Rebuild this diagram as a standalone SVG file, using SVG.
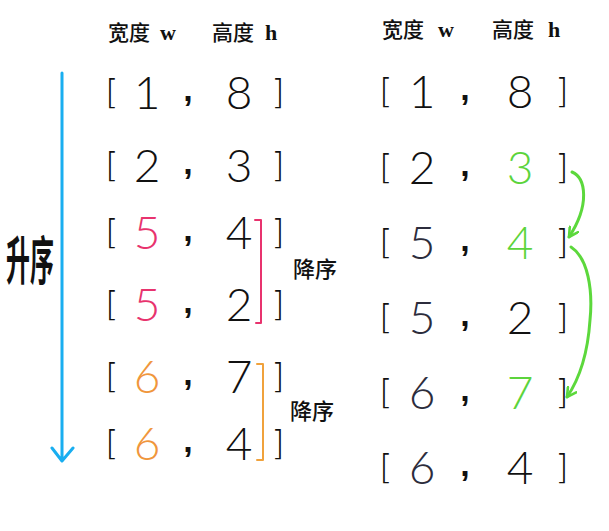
<svg xmlns="http://www.w3.org/2000/svg" width="609" height="531" viewBox="0 0 609 531">
<defs>
<style>
.hd{font-family:"Noto Sans CJK SC","Noto Sans",sans-serif;font-size:21px;font-weight:500;fill:#111}
.hl{font-family:"Liberation Serif",serif;font-size:22px;font-weight:700;fill:#111}
.d{font-family:Lato,"DejaVu Sans",sans-serif;font-size:46px;font-weight:300;fill:#111;text-anchor:middle}
.b{font-family:"DejaVu Sans",sans-serif;font-size:34px;font-weight:200;fill:#111;text-anchor:middle}
.c{font-family:"Liberation Sans",sans-serif;font-size:34px;font-weight:700;fill:#111;text-anchor:middle}
.pk{fill:#e8336e}.or{fill:#f0963c}.gr{fill:#5cd43c}.nv{fill:#2c2c3c}
.lbl{font-family:"Noto Sans CJK SC",sans-serif;font-size:22px;font-weight:500;fill:#111}
</style>
<marker id="gh" viewBox="0 0 12 12" refX="10" refY="6" markerWidth="12" markerHeight="12" markerUnits="userSpaceOnUse" orient="auto">
<path d="M1,1 L10,6 L1,11" fill="none" stroke="#5cd83c" stroke-width="2.6" stroke-linecap="round" stroke-linejoin="round"/>
</marker>
</defs>
<rect width="609" height="531" fill="#fff"/>

<g id="headers">
<text class="hd" x="108" y="40">宽度</text><text class="hl" x="160" y="40">w</text>
<text class="hd" x="212" y="40">高度</text><text class="hl" x="265" y="40">h</text>
<text class="hd" x="382" y="37">宽度</text><text class="hl" x="438" y="37">w</text>
<text class="hd" x="492" y="37">高度</text><text class="hl" x="548" y="37">h</text>
</g>

<g id="left-rows">
<g id="L1"><text class="b" x="112" y="104">[</text><text class="d" x="147" y="109">1</text><text class="c" x="188" y="101">,</text><text class="d" x="239" y="109">8</text><text class="b" x="278" y="104">]</text></g>
<g id="L2"><text class="b" x="112" y="177">[</text><text class="d" x="147" y="182">2</text><text class="c" x="188" y="174">,</text><text class="d" x="239" y="182">3</text><text class="b" x="278" y="177">]</text></g>
<g id="L3"><text class="b" x="112" y="244">[</text><text class="d pk" x="147" y="249">5</text><text class="c" x="188" y="241">,</text><text class="d" x="239" y="249">4</text><text class="b" x="278" y="244">]</text></g>
<g id="L4"><text class="b" x="112" y="316">[</text><text class="d pk" x="147" y="321">5</text><text class="c" x="188" y="313">,</text><text class="d" x="239" y="321">2</text><text class="b" x="278" y="316">]</text></g>
<g id="L5"><text class="b" x="112" y="388">[</text><text class="d or" x="147" y="393">6</text><text class="c" x="188" y="385">,</text><text class="d" x="239" y="393">7</text><text class="b" x="278" y="388">]</text></g>
<g id="L6"><text class="b" x="112" y="455">[</text><text class="d or" x="147" y="460">6</text><text class="c" x="188" y="452">,</text><text class="d" x="239" y="460">4</text><text class="b" x="278" y="455">]</text></g>
</g>

<g id="right-rows">
<g id="R1"><text class="b" x="386" y="103">[</text><text class="d" x="422" y="108">1</text><text class="c" x="465" y="100">,</text><text class="d" x="520" y="108">8</text><text class="b" x="562" y="103">]</text></g>
<g id="R2"><text class="b" x="386" y="179">[</text><text class="d" x="422" y="184">2</text><text class="c" x="465" y="176">,</text><text class="d gr" x="520" y="184">3</text><text class="b" x="562" y="179">]</text></g>
<g id="R3"><text class="b" x="386" y="254">[</text><text class="d nv" x="422" y="259">5</text><text class="c" x="465" y="251">,</text><text class="d gr" x="520" y="259">4</text><text class="b" x="562" y="254">]</text></g>
<g id="R4"><text class="b" x="386" y="329">[</text><text class="d nv" x="422" y="334">5</text><text class="c" x="465" y="326">,</text><text class="d" x="520" y="334">2</text><text class="b" x="562" y="329">]</text></g>
<g id="R5"><text class="b" x="386" y="404">[</text><text class="d nv" x="422" y="409">6</text><text class="c" x="465" y="401">,</text><text class="d gr" x="520" y="409">7</text><text class="b" x="562" y="404">]</text></g>
<g id="R6"><text class="b" x="386" y="479">[</text><text class="d nv" x="422" y="484">6</text><text class="c" x="465" y="476">,</text><text class="d" x="520" y="484">4</text><text class="b" x="562" y="479">]</text></g>
</g>

<g id="labels">
<text class="lbl" transform="translate(6,280) scale(0.46,1)" style="font-size:52px;font-weight:700">升序</text>
<text class="lbl" x="293" y="277">降序</text>
<text class="lbl" x="290" y="419">降序</text>
</g>

<g id="connectors" fill="none" stroke-linecap="round" stroke-linejoin="round">
<path d="M62,73 L62,460 M52,448 L62,461 L73,448" stroke="#19aef0" stroke-width="3"/>
<path d="M255,220 L261,220 L261,323 L256,323" stroke="#e8336e" stroke-width="2"/>
<path d="M257,364 L263,364 L263,460 L257,460" stroke="#f0a23c" stroke-width="2"/>
<path d="M572,172 C586,178 590,205 569,237" stroke="#5cd83c" stroke-width="3" marker-end="url(#gh)"/>
<path d="M571,247 C588,258 593,290 590,320 C588,350 580,378 567,397" stroke="#5cd83c" stroke-width="3" marker-end="url(#gh)"/>
</g>
</svg>
